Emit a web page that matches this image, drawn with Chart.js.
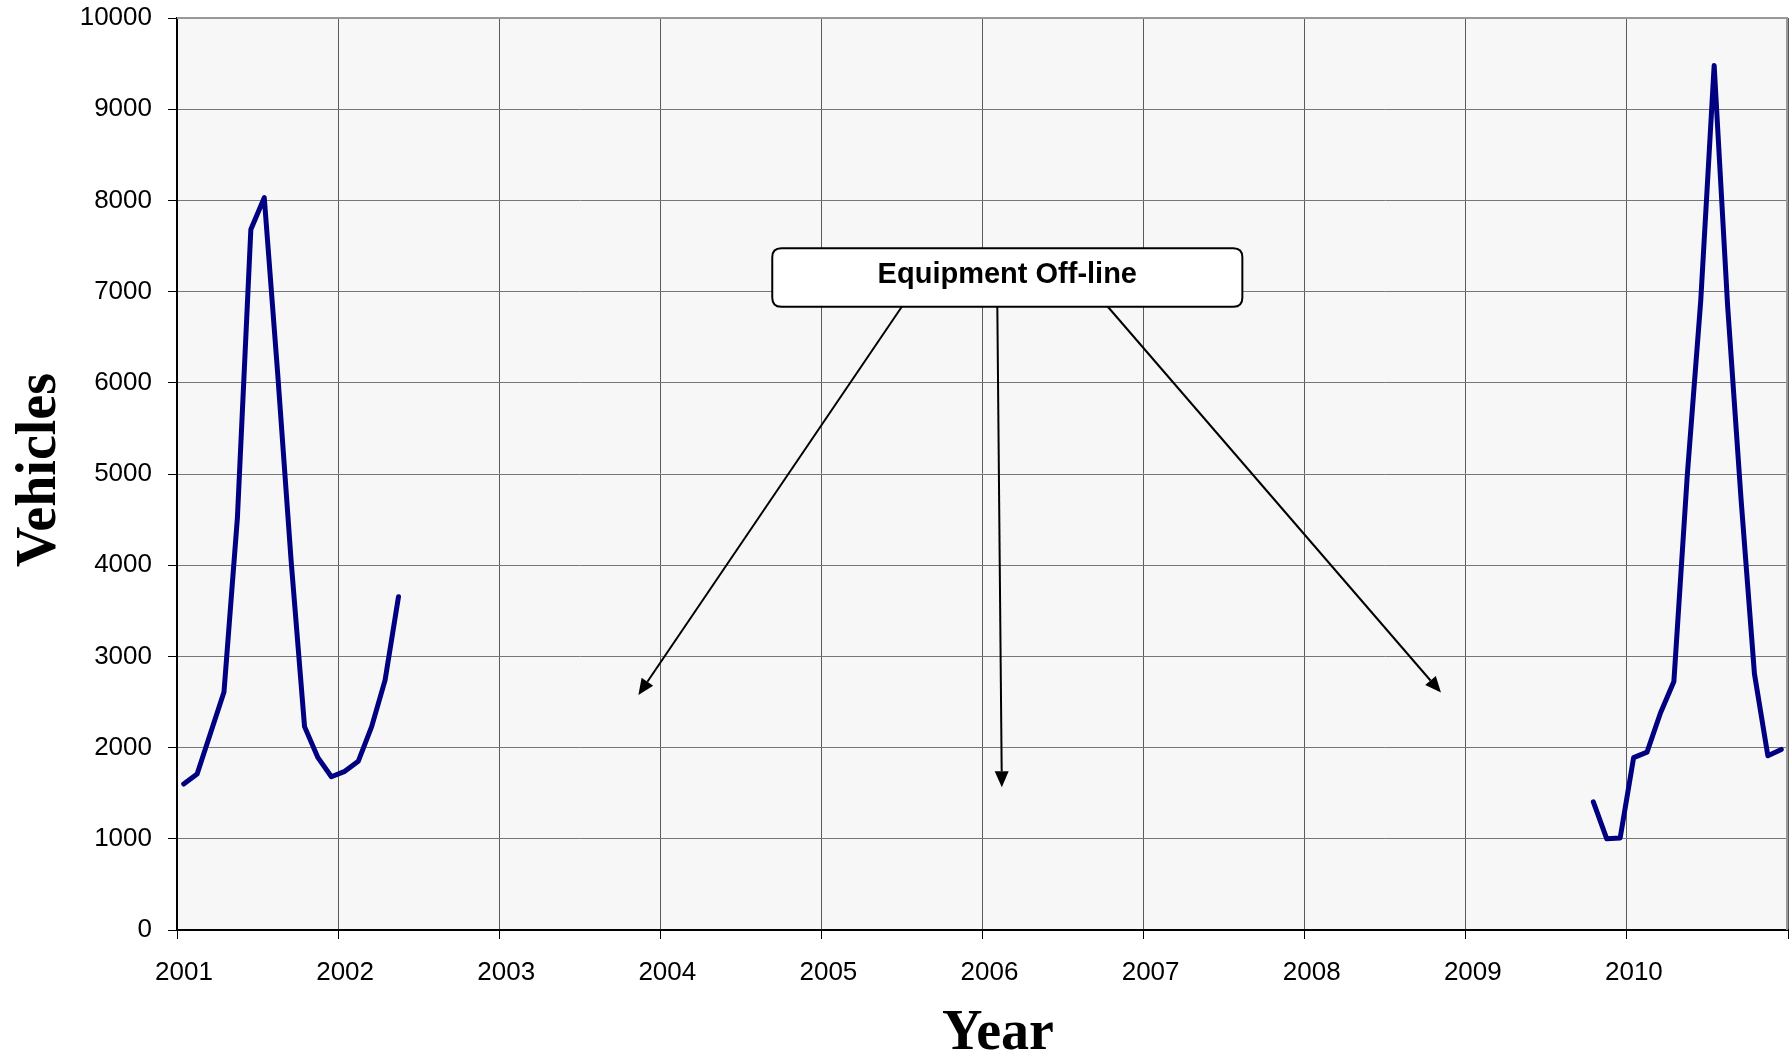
<!DOCTYPE html>
<html>
<head>
<meta charset="utf-8">
<title>Vehicles by Year</title>
<script src="https://cdn.jsdelivr.net/npm/chart.js@4.4.1/dist/chart.umd.min.js"></script>
<style>
  body { margin: 0; background: #fff; }
  #wrap { width: 1789px; height: 1063px; position: relative; }
</style>
</head>
<body>
<div id="wrap"><canvas id="vehiclesChart"></canvas></div>
<script>
// monthly counts
const yearLabels = ['2001', '2002', '2003', '2004', '2005', '2006', '2007', '2008', '2009', '2010'];
const firstYear = 2001;

// Jan 2001 .. May 2002
const earlyStartMonth = 0;
const earlyValues = [1600, 1710, 2160, 2610, 4520, 7680, 8030, 6100, 4050, 2230, 1890, 1680, 1740, 1850, 2230, 2740, 3655];

// Oct 2009 .. Dec 2010
const lateStartMonth = 105;
const lateValues = [1405, 1000, 1010, 1890, 1950, 2380, 2725, 4990, 6900, 9480, 6850, 4730, 2810, 1910, 1980];

const yMax = 10000;
const yStep = 1000;

const calloutText = 'Equipment Off-line';

// each month sits in the middle of its slot
function toPoints(startMonth, values) {
  return values.map((v, i) => ({ x: firstYear + (startMonth + i + 0.5) / 12, y: v }));
}

// callout box and arrows, in data units (year, vehicles)
const calloutBox = { x1: 2004.695, y1: 7475, x2: 2007.613, y2: 6834 };
const arrows = [
  { from: [2005.499, 6834], to: [2003.864, 2577] },
  { from: [2006.092, 6834], to: [2006.120, 1565] },
  { from: [2006.778, 6834], to: [2008.846, 2603] }
];

function drawArrow(ctx, x1, y1, x2, y2) {
  const ang = Math.atan2(y2 - y1, x2 - x1);
  const head = 16, half = 7;
  const bx = x2 - head * Math.cos(ang), by = y2 - head * Math.sin(ang);
  ctx.beginPath();
  ctx.moveTo(x1, y1);
  ctx.lineTo(bx, by);
  ctx.stroke();
  ctx.beginPath();
  ctx.moveTo(x2, y2);
  ctx.lineTo(bx + half * Math.sin(ang), by - half * Math.cos(ang));
  ctx.lineTo(bx - half * Math.sin(ang), by + half * Math.cos(ang));
  ctx.closePath();
  ctx.fill();
}

function roundRect(ctx, x, y, w, h, r) {
  ctx.beginPath();
  ctx.moveTo(x + r, y);
  ctx.lineTo(x + w - r, y);
  ctx.quadraticCurveTo(x + w, y, x + w, y + r);
  ctx.lineTo(x + w, y + h - r);
  ctx.quadraticCurveTo(x + w, y + h, x + w - r, y + h);
  ctx.lineTo(x + r, y + h);
  ctx.quadraticCurveTo(x, y + h, x, y + h - r);
  ctx.lineTo(x, y + r);
  ctx.quadraticCurveTo(x, y, x + r, y);
  ctx.closePath();
}

const plotDecor = {
  id: 'plotDecor',
  beforeDraw(chart) {
    const { ctx, chartArea: a } = chart;
    ctx.save();
    ctx.fillStyle = '#f7f7f7';
    ctx.fillRect(a.left, a.top, a.right - a.left, a.bottom - a.top);
    ctx.restore();
  },
  afterDraw(chart) {
    const { ctx, chartArea: a } = chart;
    const xs = chart.scales.x, ys = chart.scales.y;
    ctx.save();

    // grey frame on top and right
    ctx.strokeStyle = '#999';
    ctx.lineWidth = 2;
    ctx.beginPath();
    ctx.moveTo(a.left, a.top);
    ctx.lineTo(a.right - 1, a.top);
    ctx.lineTo(a.right - 1, a.bottom);
    ctx.stroke();

    // arrows
    ctx.strokeStyle = '#000';
    ctx.fillStyle = '#000';
    ctx.lineWidth = 2;
    arrows.forEach(ar => {
      drawArrow(ctx,
        xs.getPixelForValue(ar.from[0]), ys.getPixelForValue(ar.from[1]),
        xs.getPixelForValue(ar.to[0]), ys.getPixelForValue(ar.to[1]));
    });

    // callout box
    const bx1 = xs.getPixelForValue(calloutBox.x1), bx2 = xs.getPixelForValue(calloutBox.x2);
    const by1 = ys.getPixelForValue(calloutBox.y1), by2 = ys.getPixelForValue(calloutBox.y2);
    roundRect(ctx, bx1, by1, bx2 - bx1, by2 - by1, 9);
    ctx.fillStyle = '#fff';
    ctx.fill();
    ctx.strokeStyle = '#000';
    ctx.lineWidth = 2;
    ctx.stroke();
    ctx.fillStyle = '#000';
    ctx.font = 'bold 29px "Liberation Sans", Arial, sans-serif';
    ctx.textAlign = 'center';
    ctx.textBaseline = 'alphabetic';
    ctx.fillText(calloutText, (bx1 + bx2) / 2, by1 + 35);

    // axis titles
    ctx.font = 'bold 56px "Liberation Serif", "Times New Roman", serif';
    ctx.textBaseline = 'middle';
    ctx.fillText('Year', 998, 1035);
    ctx.translate(41, 470);
    ctx.rotate(-Math.PI / 2);
    ctx.fillText('Vehicles', 0, 0);
    ctx.restore();
  }
};

const tickFont = { family: '"Liberation Sans", Arial, sans-serif', size: 26 };

const lineStyle = {
  borderColor: '#000080',
  borderWidth: 5,
  borderJoinStyle: 'round',
  borderCapStyle: 'round',
  pointRadius: 0,
  tension: 0,
  fill: false
};

new Chart(document.getElementById('vehiclesChart'), {
  type: 'line',
  data: {
    datasets: [
      Object.assign({ data: toPoints(earlyStartMonth, earlyValues) }, lineStyle),
      Object.assign({ data: toPoints(lateStartMonth, lateValues) }, lineStyle)
    ]
  },
  options: {
    responsive: true,
    maintainAspectRatio: false,
    animation: false,
    layout: { padding: { top: 18, right: 1, left: 0, bottom: 0 } },
    plugins: { legend: { display: false }, tooltip: { enabled: false } },
    scales: {
      x: {
        type: 'linear',
        min: firstYear,
        max: firstYear + yearLabels.length,
        afterFit(scale) {
          scale.height = 133;
          scale.paddingLeft = 0;
          scale.paddingRight = 0;
        },
        grid: { color: '#5a5a5a', lineWidth: 1, tickLength: 9, tickColor: '#000' },
        border: { color: '#000', width: 2 },
        ticks: {
          stepSize: 1,
          maxTicksLimit: 20,
          color: '#000',
          font: tickFont,
          padding: 18,
          labelOffset: 7,
          maxRotation: 0,
          callback: v => yearLabels[v - firstYear] || ''
        }
      },
      y: {
        min: 0,
        max: yMax,
        afterFit(scale) {
          scale.width = 177;
          scale.paddingTop = 0;
          scale.paddingBottom = 0;
        },
        grid: { color: '#777', lineWidth: 1, tickLength: 9, tickColor: '#000' },
        border: { color: '#000', width: 2 },
        ticks: {
          stepSize: yStep,
          color: '#000',
          font: tickFont,
          padding: 16,
          callback: v => String(v)
        }
      }
    }
  },
  plugins: [plotDecor]
});
</script>
</body>
</html>
